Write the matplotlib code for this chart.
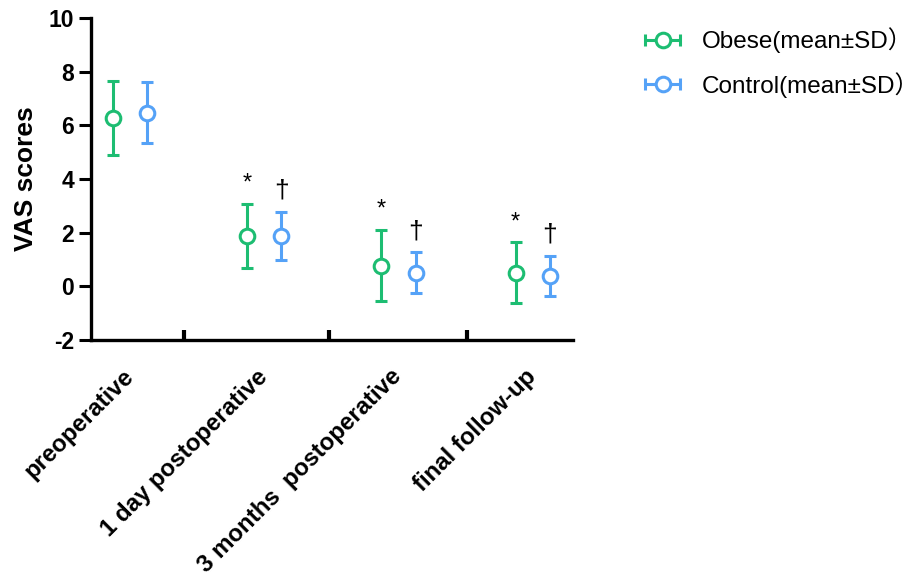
import numpy as np
import matplotlib
matplotlib.use("Agg")
import matplotlib.pyplot as plt
from matplotlib.container import ErrorbarContainer
from matplotlib.legend_handler import HandlerErrorbar

plt.rcParams['font.family'] = ['Liberation Sans', 'Noto Sans CJK SC', 'DejaVu Sans']
plt.rcParams['axes.unicode_minus'] = False

groups = ['preoperative', '1 day postoperative', '3 months  postoperative', 'final follow-up']
obese_mean = [6.26, 1.88, 0.77, 0.50]
obese_sd = [1.38, 1.20, 1.34, 1.13]
control_mean = [6.47, 1.87, 0.50, 0.38]
control_sd = [1.15, 0.91, 0.76, 0.75]
obese_mark = ['', '*', '*', '*']
control_mark = ['', '†', '†', '†']

GREEN = '#1dbd72'
BLUE = '#55a2f7'
OFFSET = 0.127

fig = plt.figure(figsize=(9.22, 5.78), dpi=100)
ax = fig.add_axes([0.0987, 0.412, 0.5228, 0.557])

x = np.arange(len(groups))
style = dict(fmt='o', markersize=10.5, markerfacecolor='white', markeredgewidth=2.2,
             elinewidth=2.2, capsize=4.5, capthick=2.2)
ax.errorbar(x - OFFSET, obese_mean, yerr=obese_sd, color=GREEN, **style)
ax.errorbar(x + OFFSET, control_mean, yerr=control_sd, color=BLUE, **style)

for i in range(len(groups)):
    if obese_mark[i]:
        ax.text(x[i] - OFFSET, obese_mean[i] + obese_sd[i] + 0.35, obese_mark[i],
                ha='center', va='bottom', fontsize=17)
    if control_mark[i]:
        ax.text(x[i] + OFFSET, control_mean[i] + control_sd[i] + 0.35, control_mark[i],
                ha='center', va='bottom', fontsize=19)

ax.set_xlim(-0.29, 3.30)
ax.set_ylim(-2, 10)
ax.set_yticks(np.arange(-2, 11, 2))
ax.set_xticks(x)
ax.set_xticklabels(groups, rotation=45, ha='right', va='center', rotation_mode='anchor',
                   fontsize=17.3, fontweight='bold')
ax.tick_params(axis='x', length=0, pad=24)
ax.set_xticks([0.40, 1.48, 2.51], minor=True)
ax.tick_params(axis='x', which='minor', direction='in', length=7, width=3)
ax.tick_params(axis='y', length=9, width=2.2, labelsize=16.5, pad=3)
for lab in ax.get_yticklabels():
    lab.set_fontweight('bold')
ax.set_ylabel('VAS scores', fontsize=19, fontweight='bold', labelpad=8)

for side in ['top', 'right']:
    ax.spines[side].set_visible(False)
for side in ['left', 'bottom']:
    ax.spines[side].set_linewidth(2.4)

# horizontal errorbar proxies for the legend
h1 = ax.errorbar([np.nan], [np.nan], xerr=[1], color=GREEN, **style)
h2 = ax.errorbar([np.nan], [np.nan], xerr=[1], color=BLUE, **style)
fig.legend([h1, h2], ['Obese(mean±SD）', 'Control(mean±SD）'],
           loc='upper left', bbox_to_anchor=(0.687, 0.969), borderaxespad=0,
           frameon=False, fontsize=17.5, handlelength=1.6, handletextpad=0.83,
           labelspacing=0.77,
           handler_map={ErrorbarContainer: HandlerErrorbar(xerr_size=0.72)})

fig.savefig('out.png', dpi=100)
